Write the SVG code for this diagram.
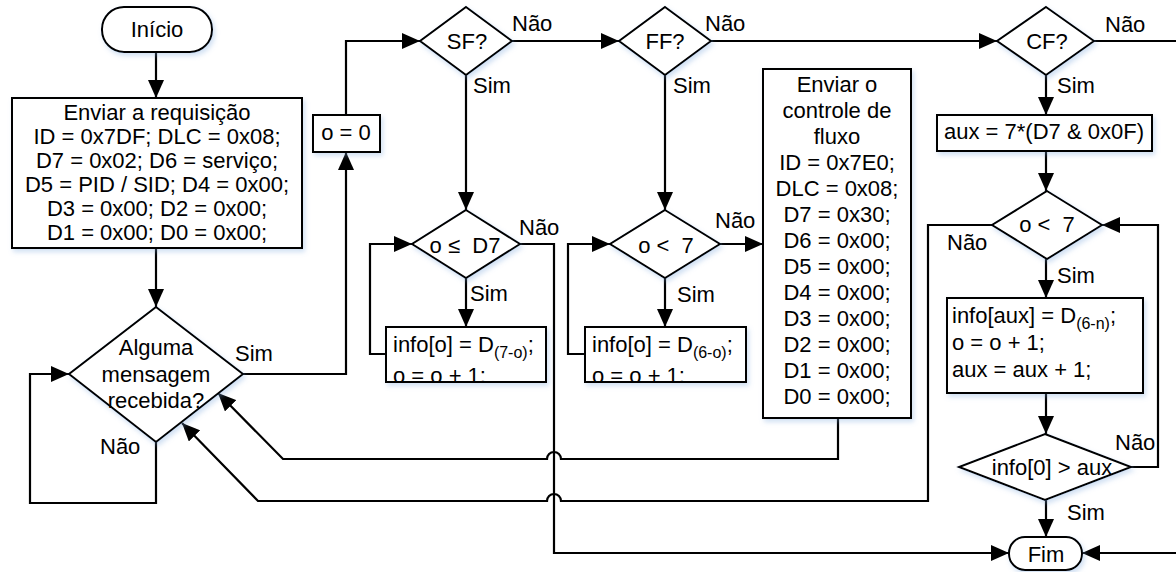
<svg xmlns="http://www.w3.org/2000/svg" width="1176" height="572" viewBox="0 0 1176 572">
<style>
text{font-family:"Liberation Sans",Arial,sans-serif;font-size:22px;fill:#000}
.m{text-anchor:middle}
.pre{white-space:pre}
.sub{font-size:16px}
.shape{fill:#fff;stroke:#000;stroke-width:2;filter:url(#sh)}
.c{fill:none;stroke:#000;stroke-width:2.2;stroke-linejoin:miter}
.a{marker-end:url(#ah)}
</style>
<defs>
<marker id="ah" markerUnits="userSpaceOnUse" markerWidth="18" markerHeight="16" refX="18" refY="8" orient="auto">
<path d="M0,0 L18,8 L0,16 z" fill="#000"/>
</marker>
<filter id="sh" x="-20%" y="-20%" width="140%" height="140%">
<feGaussianBlur in="SourceAlpha" stdDeviation="2.5" result="b"/>
<feOffset in="b" dx="2" dy="3" result="o"/>
<feFlood flood-color="#7aa6dc" flood-opacity="0.35"/>
<feComposite in2="o" operator="in" result="s"/>
<feMerge><feMergeNode in="s"/><feMergeNode in="SourceGraphic"/></feMerge>
</filter>
<clipPath id="cb1"><rect x="386" y="327" width="160" height="54"/></clipPath>
<clipPath id="cb2"><rect x="585" y="327" width="161" height="54"/></clipPath>
</defs>

<g id="connectors">
<path class="c a" d="M156,52 L156,98"/>
<path class="c a" d="M156,248 L156,307"/>
<path class="c a" d="M156,442 L156,503 L30,503 L30,374 L69,374"/>
<path class="c a" d="M243,374 L346,374 L346,152"/>
<path class="c a" d="M346,115 L346,41 L420,41"/>
<path class="c a" d="M512,41 L619,41"/>
<path class="c a" d="M711,41 L997,41"/>
<path class="c a" d="M1094,41 L1182,41 L1182,553 L1082,553"/>
<path class="c a" d="M466,75 L466,210"/>
<path class="c a" d="M665,75 L665,210"/>
<path class="c a" d="M466,278 L466,327"/>
<path class="c a" d="M665,278 L665,327"/>
<path class="c a" d="M386,354 L370,354 L370,244 L412,244"/>
<path class="c a" d="M585,354 L568,354 L568,244 L610,244"/>
<path class="c a" d="M720,244 L763,244"/>
<path class="c a" d="M520,244 L554,244 L554,553 L1009,553"/>
<path class="c a" d="M838,418 L838,459 L561,459 A7,7 0 0 0 547,459 L283,459 L218,393"/>
<path class="c a" d="M992,225 L928,225 L928,501 L561,501 A7,7 0 0 0 547,501 L258,501 L182,423"/>
<path class="c a" d="M1046,75 L1046,115"/>
<path class="c a" d="M1046,151 L1046,191"/>
<path class="c a" d="M1046,259 L1046,298"/>
<path class="c a" d="M1046,393 L1046,434"/>
<path class="c a" d="M1046,500 L1046,537"/>
<path class="c a" d="M1131,467 L1158,467 L1158,225 L1102,225"/>
</g>

<g id="labels">
<text x="235" y="361">Sim</text>
<text x="100" y="454">Não</text>
<text x="512" y="31">Não</text>
<text x="473" y="93">Sim</text>
<text x="705" y="31">Não</text>
<text x="673" y="93">Sim</text>
<text x="1105" y="32">Não</text>
<text x="1057" y="93">Sim</text>
<text x="519" y="235">Não</text>
<text x="470" y="301">Sim</text>
<text x="715" y="228">Não</text>
<text x="677" y="302">Sim</text>
<text x="947" y="250">Não</text>
<text x="1057" y="283">Sim</text>
<text x="1115" y="450">Não</text>
<text x="1067" y="520">Sim</text>
</g>

<g id="inicio">
<rect class="shape" x="102" y="7" width="110" height="45" rx="22" ry="22"/>
<text class="m" x="157" y="37">Início</text>
</g>

<g id="requisicao">
<rect class="shape" x="12" y="98" width="290" height="150"/>
<text class="m" x="157" y="120">Enviar a requisição</text>
<text class="m" x="157" y="144">ID = 0x7DF; DLC = 0x08;</text>
<text class="m" x="157" y="168">D7 = 0x02; D6 = serviço;</text>
<text class="m" x="157" y="192">D5 = PID / SID; D4 = 0x00;</text>
<text class="m" x="157" y="216">D3 = 0x00; D2 = 0x00;</text>
<text class="m" x="157" y="240">D1 = 0x00; D0 = 0x00;</text>
</g>

<g id="mensagem">
<polygon class="shape" points="156,307 243,374 156,442 69,374"/>
<text class="m" x="156" y="355">Alguma</text>
<text class="m" x="156" y="382">mensagem</text>
<text class="m" x="156" y="408">recebida?</text>
</g>

<g id="o0">
<rect class="shape" x="313" y="115" width="67" height="37"/>
<text class="m" x="346" y="140">o = 0</text>
</g>

<g id="sf">
<polygon class="shape" points="466,7 512,41 466,75 420,41"/>
<text class="m" x="467" y="49">SF?</text>
</g>

<g id="ff">
<polygon class="shape" points="665,7 711,41 665,75 619,41"/>
<text class="m" x="665" y="49">FF?</text>
</g>

<g id="cf">
<polygon class="shape" points="1046,7 1094,41 1046,75 997,41"/>
<text class="m" x="1047" y="49">CF?</text>
</g>

<g id="cond-sf">
<polygon class="shape" points="466,210 520,244 466,278 412,244"/>
<text class="m pre" x="465" y="253">o ≤  D7</text>
</g>

<g id="info-sf">
<rect class="shape" x="386" y="327" width="160" height="55"/>
<g clip-path="url(#cb1)">
<text x="393" y="352">info[o] = D<tspan class="sub" dy="6">(7-o)</tspan><tspan dy="-6">;</tspan></text>
<text x="393" y="383">o = o + 1;</text>
</g>
</g>

<g id="cond-ff">
<polygon class="shape" points="665,210 720,244 665,278 610,244"/>
<text class="m pre" x="666" y="253">o &lt;  7</text>
</g>

<g id="info-ff">
<rect class="shape" x="585" y="327" width="161" height="55"/>
<g clip-path="url(#cb2)">
<text x="592" y="352">info[o] = D<tspan class="sub" dy="6">(6-o)</tspan><tspan dy="-6">;</tspan></text>
<text x="592" y="383">o = o + 1;</text>
</g>
</g>

<g id="controle">
<rect class="shape" x="763" y="69" width="148" height="349"/>
<text class="m" x="837" y="92">Enviar o</text>
<text class="m" x="837" y="118">controle de</text>
<text class="m" x="837" y="144">fluxo</text>
<text class="m" x="837" y="170">ID = 0x7E0;</text>
<text class="m" x="837" y="196">DLC = 0x08;</text>
<text class="m" x="837" y="222">D7 = 0x30;</text>
<text class="m" x="837" y="248">D6 = 0x00;</text>
<text class="m" x="837" y="274">D5 = 0x00;</text>
<text class="m" x="837" y="300">D4 = 0x00;</text>
<text class="m" x="837" y="326">D3 = 0x00;</text>
<text class="m" x="837" y="352">D2 = 0x00;</text>
<text class="m" x="837" y="378">D1 = 0x00;</text>
<text class="m" x="837" y="404">D0 = 0x00;</text>
</g>

<g id="aux">
<rect class="shape" x="937" y="115" width="215" height="36"/>
<text class="m" x="1044" y="139">aux = 7*(D7 &amp; 0x0F)</text>
</g>

<g id="cond-cf">
<polygon class="shape" points="1047,191 1102,225 1047,259 992,225"/>
<text class="m pre" x="1047" y="232">o &lt;  7</text>
</g>

<g id="info-cf">
<rect class="shape" x="947" y="298" width="196" height="95"/>
<text x="952" y="323">info[aux] = D<tspan class="sub" dy="6">(6-n)</tspan><tspan dy="-6">;</tspan></text>
<text x="952" y="350">o = o + 1;</text>
<text x="952" y="377">aux = aux + 1;</text>
</g>

<g id="cond-aux">
<polygon class="shape" points="1045,434 1131,467 1045,500 959,467"/>
<text class="m" x="1052" y="475">info[0] &gt; aux</text>
</g>

<g id="fim">
<rect class="shape" x="1009" y="537" width="73" height="33" rx="16" ry="16"/>
<text class="m" x="1046" y="562">Fim</text>
</g>
</svg>
